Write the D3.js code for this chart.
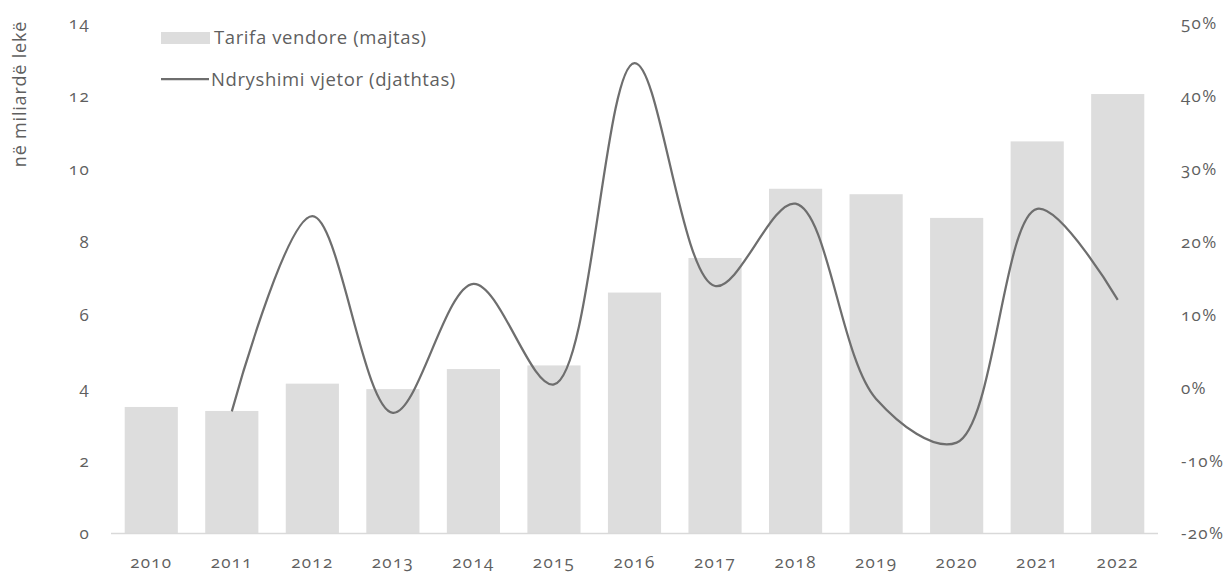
<!doctype html>
<html lang="en">
<head>
  <meta charset="utf-8">
  <script src="https://cdnjs.cloudflare.com/ajax/libs/d3/7.8.5/d3.min.js"></script>
  <style>
    html, body{width:100%; height:100%; margin:0px; padding:0px; background:#fff;}
    svg text{font-family:"Open Sans", sans-serif; fill:#5f5f5f; font-feature-settings:"onum" 1; font-variant-numeric:oldstyle-nums;}
    .tick text{letter-spacing:1.3px;}
    .legend text{letter-spacing:0.6px;}
  </style>
</head>
<body>
<div id="view"></div>
<script>
// chart data
var years = ["2010","2011","2012","2013","2014","2015","2016","2017","2018","2019","2020","2021","2022"];
var tarifa = [3.46, 3.35, 4.1, 3.95, 4.5, 4.6, 6.6, 7.55, 9.45, 9.3, 8.65, 10.75, 12.05];
var ndryshimi = [null, -3.3, 23.5, -3.5, 14.2, 0.4, 44.5, 13.9, 25.2, -1.6, -7.6, 24.5, 12.0];
var leftTicks = [0, 2, 4, 6, 8, 10, 12, 14];
var rightTicks = [-20, -10, 0, 10, 20, 30, 40, 50];

var W = 1231, H = 573;
var svg = d3.select('#view').append('svg')
    .attr('width', W)
    .attr('height', H);

var x = d3.scaleBand().domain(years).range([111, 1158]).paddingInner(0.34).paddingOuter(0.17);
var yL = d3.scaleLinear().domain([0, 14]).range([533, 23]);
var yR = d3.scaleLinear().domain([-20, 50]).range([533, 23]);

// bars
svg.selectAll('rect.bar').data(tarifa).enter().append('rect')
    .attr('class', 'bar')
    .attr('x', function(d, i){ return x(years[i]); })
    .attr('width', x.bandwidth())
    .attr('y', function(d){ return yL(d); })
    .attr('height', function(d){ return yL(0) - yL(d); })
    .attr('fill', '#dddddd');

// baseline
svg.append('line')
    .attr('x1', 111).attr('x2', 1158)
    .attr('y1', yL(0) + 0.5).attr('y2', yL(0) + 0.5)
    .attr('stroke', '#d9d9d9').attr('stroke-width', 1.5);

// line (smoothed)
var pts = ndryshimi.map(function(d, i){ return [years[i], d]; }).filter(function(p){ return p[1] !== null; });
var line = d3.line()
    .x(function(p){ return x(p[0]) + x.bandwidth() / 2; })
    .y(function(p){ return yR(p[1]); })
    .curve(d3.curveCatmullRom.alpha(0.5));
svg.append('path').datum(pts)
    .attr('d', line)
    .attr('fill', 'none')
    .attr('stroke', '#6e6e6e')
    .attr('stroke-width', 2.25);

// left axis
var axL = d3.axisLeft(yL).tickValues(leftTicks).tickSize(0).tickPadding(0);
var gL = svg.append('g').attr('transform', 'translate(90,0)').call(axL);
gL.select('.domain').remove();
gL.selectAll('text').attr('font-size', 17).attr('dy', '0.35em');

// right axis
var axR = d3.axisRight(yR).tickValues(rightTicks).tickSize(0).tickPadding(0)
    .tickFormat(function(d){ return d + '%'; });
var gR = svg.append('g').attr('transform', 'translate(1181,0)').call(axR);
gR.select('.domain').remove();
gR.selectAll('text').attr('font-size', 17).attr('dy', '0.35em');

// x axis
var axX = d3.axisBottom(x).tickSize(0).tickPadding(0);
var gX = svg.append('g').attr('transform', 'translate(0,556)').call(axX);
gX.select('.domain').remove();
gX.selectAll('text').attr('font-size', 17).attr('dy', '0.72em');

// y title
svg.append('text')
    .attr('transform', 'translate(26,94) rotate(-90)')
    .attr('text-anchor', 'middle')
    .attr('font-size', 18)
    .attr('letter-spacing', '0.8px')
    .text('në miliardë lekë');

// legend
var lg = svg.append('g').attr('class', 'legend');
lg.append('rect').attr('x', 161).attr('y', 32).attr('width', 49).attr('height', 12).attr('fill', '#dddddd');
lg.append('text').attr('x', 214).attr('y', 38).attr('dy', '0.35em').attr('font-size', 18.5).text('Tarifa vendore (majtas)');
lg.append('line').attr('x1', 161).attr('x2', 209).attr('y1', 79).attr('y2', 79)
    .attr('stroke', '#6e6e6e').attr('stroke-width', 2.25);
lg.append('text').attr('x', 211).attr('y', 80).attr('dy', '0.35em').attr('font-size', 18.5).text('Ndryshimi vjetor (djathtas)');
</script>
</body>
</html>
